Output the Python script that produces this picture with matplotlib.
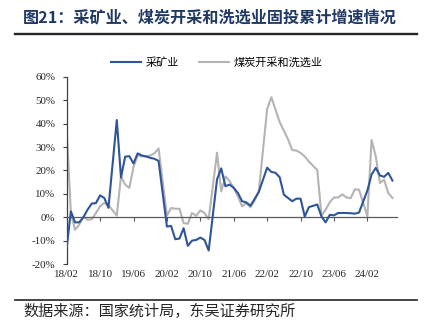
import matplotlib
matplotlib.use("Agg")
import matplotlib.pyplot as plt
from matplotlib.lines import Line2D

plt.rcParams['font.family'] = ['Noto Sans CJK SC', 'DejaVu Sans']

# 月份：2018年2月至2024年8月（1月与2月合并公布，无1月数据）
years = [2018, 2019, 2020, 2021, 2022, 2023, 2024]
months_full = [2, 3, 4, 5, 6, 7, 8, 9, 10, 11, 12]
months_2024 = [2, 3, 4, 5, 6, 7, 8]

# 采矿业固投累计同比（%）
mining = [
    -13.0, 2.6, -2.1, -2.1, 0.1, 3.3, 5.9, 6.1, 9.4, 8.3, 4.1,
    41.5, 17.0, 25.9, 26.1, 23.0, 27.3, 26.4, 26.0, 25.4, 25.0, 24.1,
    -3.9, -3.6, -9.3, -9.0, -4.6, -12.1, -9.9, -9.6, -8.6, -9.6, -14.1,
    16.2, 20.9, 13.3, 14.0, 12.6, 10.4, 6.9, 6.4, 5.0, 7.9, 10.9,
    21.2, 19.4, 19.0, 17.1, 9.7, 8.3, 6.9, 8.0, 8.0, 0.4, 4.4,
    5.5, 0.4, -2.1, 1.1, 0.9, 1.9, 1.9, 1.9, 1.8, 1.6, 2.1,
    11.5, 18.3, 21.1, 17.9, 17.3, 19.0, 15.7,
]

# 煤炭开采和洗选业固投累计同比（%）
coal = [
    37.9, 2.0, -5.3, -3.1, 0.3, -1.0, -0.8, 1.9, 4.7, 6.2, 5.2,
    0.8, 17.5, 14.0, 12.6, 21.5, 26.5, 26.0, 26.0, 26.4, 27.3, 29.4,
    0.8, 4.0, 3.7, 3.7, -2.4, -2.7, 1.9, 0.7, 3.0, 1.9, -0.7,
    27.6, 11.1, 17.5, 15.5, 12.5, 9.0, 4.7, 6.1, 4.3, 7.2, 11.1,
    46.2, 51.2, 46.0, 40.6, 37.0, 33.3, 28.7, 28.5, 27.5, 26.0, 23.8,
    20.2, 0.8, 3.3, 6.5, 8.5, 8.5, 9.8, 8.5, 8.2, 12.0, 11.8,
    0.5, 33.0, 26.1, 14.7, 16.1, 10.4, 8.3,
]

tick_labels = ["18/02", "18/10", "19/06", "20/02", "20/10",
               "21/06", "22/02", "22/10", "23/06", "24/02"]

# 以2018年2月为0的月序号
x = []
for y in years:
    for m in (months_2024 if y == 2024 else months_full):
        x.append((y - 2018) * 12 + (m - 2))

def label_pos(lbl):
    yy, mm = lbl.split("/")
    return (int(yy) - 18) * 12 + int(mm) - 2

blue = "#2E5597"
grey = "#B4B4B4"

fig = plt.figure(figsize=(4.33, 3.22), dpi=100)
ax = fig.add_axes([0.154, 0.179, 0.762, 0.583])

ax.plot(x, coal, color=grey, lw=1.5, zorder=2)
ax.plot(x, mining, color=blue, lw=1.5, zorder=3)

ax.set_ylim(-20, 60)
ax.set_yticks(range(-20, 61, 10))
ax.set_yticklabels([f"{v}%" for v in range(-20, 61, 10)],
                   family="Liberation Serif", fontsize=7.9, color="#262626")
ax.set_xlim(0, 79)

for s in ("top", "right"):
    ax.spines[s].set_visible(False)
ax.spines["left"].set_color("#404040")
ax.spines["left"].set_linewidth(0.9)
ax.spines["bottom"].set_position(("data", 0))
ax.spines["bottom"].set_color("#595959")
ax.spines["bottom"].set_linewidth(0.9)

ticks = [label_pos(t) for t in tick_labels]
ax.set_xticks(ticks)
ax.tick_params(axis="x", direction="out", length=3, width=0.8,
               color="#595959", labelbottom=False)
ax.tick_params(axis="y", direction="out", length=3, width=0.8,
               color="#404040", pad=5)

# 日期标签放在图底部
sec = ax.secondary_xaxis("bottom")
sec.set_xticks(ticks)
sec.set_xticklabels(tick_labels, family="Liberation Serif", fontsize=7.9,
                    color="#262626")
sec.tick_params(length=0, pad=4)
sec.spines["bottom"].set_visible(False)

handles = [Line2D([], [], color=blue, lw=1.5),
           Line2D([], [], color=grey, lw=1.5)]
fig.legend(handles, ["采矿业", "煤炭开采和洗选业"], loc="center",
           bbox_to_anchor=(0.5, 1 - 62.5 / 322), ncol=2, frameon=False,
           fontsize=8, handlelength=2.7, handletextpad=0.4,
           columnspacing=1.8)

fig.text(0.053, 0.947, "图21：采矿业、煤炭开采和洗选业固投累计增速情况",
         fontsize=11.6, fontweight="bold", color="#1F3864",
         ha="left", va="center")
fig.add_artist(Line2D([0.035, 0.963], [0.893, 0.893], color="#262626",
                      lw=1.7, transform=fig.transFigure))
fig.add_artist(Line2D([0.035, 0.963], [0.067, 0.067], color="#262626",
                      lw=1.2, transform=fig.transFigure))
fig.text(0.053, 0.032, "数据来源：国家统计局，东吴证券研究所",
         fontsize=10.9, color="#262626", ha="left", va="center")

fig.savefig("out.png", dpi=100)
